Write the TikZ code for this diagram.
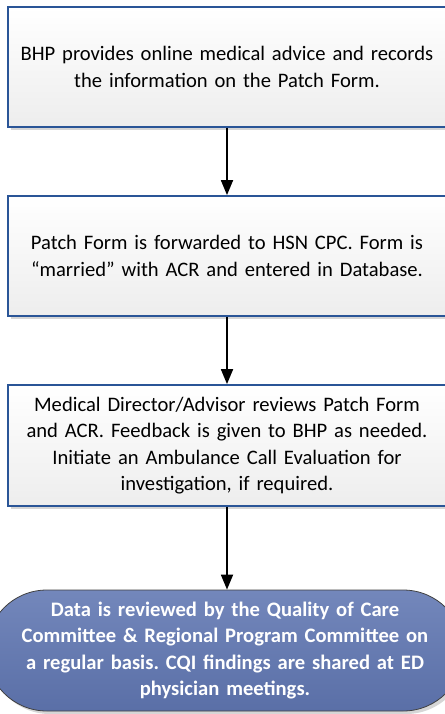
\documentclass[tikz,border=0pt]{standalone}
\usepackage{fontspec}
\setmainfont{Carlito}
\frenchspacing
\usetikzlibrary{arrows.meta,shapes.misc,shadows}
\definecolor{boxborder}{HTML}{2A5597}
\definecolor{stadtop}{HTML}{7387BB}
\definecolor{stadbot}{HTML}{5A6FA7}
\definecolor{shadowgray}{HTML}{D6D6D6}
\tikzset{
  stepbox/.style={draw=boxborder, line width=1.8pt, top color=white, bottom color=black!7,
    minimum width=438pt, minimum height=120pt, inner sep=0pt, align=center,
    text width=432pt, font=\fontsize{20.6}{26.5}\selectfont,
    drop shadow={shadow xshift=3pt, shadow yshift=-3pt, fill=shadowgray, opacity=1}},
  endbox/.style={rounded rectangle, draw=black!75, line width=0.8pt, top color=stadtop, bottom color=stadbot,
    minimum width=434pt, minimum height=121pt, inner sep=0pt, align=center,
    text width=428pt, text=white, font=\fontsize{20.6}{26.5}\selectfont\bfseries,
    drop shadow={shadow xshift=3pt, shadow yshift=-3pt, fill=shadowgray, opacity=1}},
  flow/.style={-{Triangle[width=12pt,length=15pt]}, line width=1.8pt, black}
}
\begin{document}
\begin{tikzpicture}[x=1pt,y=-1pt]
\useasboundingbox (0,0) rectangle (444,714);
\node[stepbox] (b1) at (227,67) {BHP provides online medical advice and records\\the information on the Patch Form.};
\node[stepbox] (b2) at (227,256) {Patch Form is forwarded to HSN CPC. Form is\\\textquotedblleft married\textquotedblright{} with ACR and entered in Database.};
\node[stepbox, minimum height=121pt] (b3) at (227,445.5) {Medical Director/Advisor reviews Patch Form\\and ACR. Feedback is given to BHP as needed.\\Initiate an Ambulance Call Evaluation for\\investigation, if required.};
\node[endbox] (b4) at (225,650.5) {Data is reviewed by the Quality of Care\\Committee \& Regional Program Committee on\\a regular basis. CQI findings are shared at ED\\physician meetings.};
\draw[flow] (b1.south -| 227,0) -- (b2.north -| 227,0);
\draw[flow] (b2.south -| 227,0) -- (b3.north -| 227,0);
\draw[flow] (b3.south -| 227,0) -- (b4.north -| 227,0);
\end{tikzpicture}
\end{document}
